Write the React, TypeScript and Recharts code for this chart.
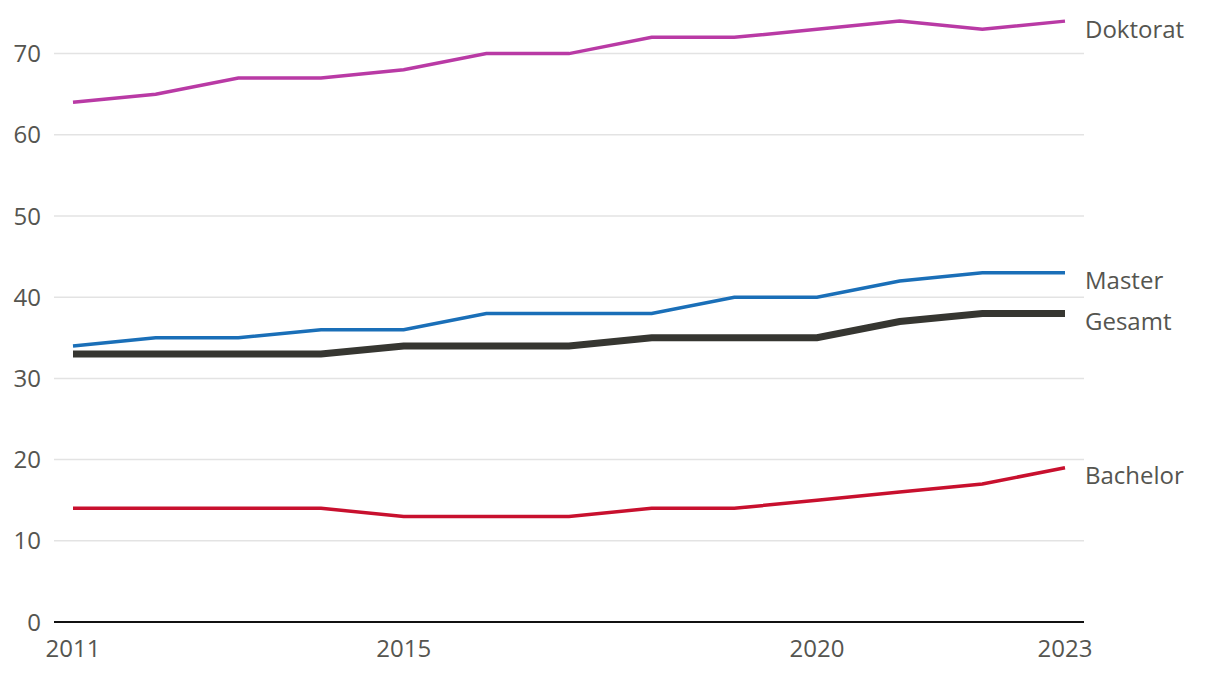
import { LineChart, Line, XAxis, YAxis, CartesianGrid } from "recharts";

const years = [2011, 2012, 2013, 2014, 2015, 2016, 2017, 2018, 2019, 2020, 2021, 2022, 2023];
const doktorat = [64, 65, 67, 67, 68, 70, 70, 72, 72, 73, 74, 73, 74];
const master = [34, 35, 35, 36, 36, 38, 38, 38, 40, 40, 42, 43, 43];
const gesamt = [33, 33, 33, 33, 34, 34, 34, 35, 35, 35, 37, 38, 38];
const bachelor = [14, 14, 14, 14, 13, 13, 13, 14, 14, 15, 16, 17, 19];

const xTicks = [2011, 2015, 2020, 2023];
const yTicks = [0, 10, 20, 30, 40, 50, 60, 70];

const FONT = "'Open Sans', 'Noto Sans', sans-serif";
const TEXT = "#555550";
const FS = 24;

const data = years.map((year, i) => ({
  year,
  doktorat: doktorat[i],
  master: master[i],
  gesamt: gesamt[i],
  bachelor: bachelor[i],
}));

// Beschriftung nur am letzten Punkt der Linie
const endLabel = (name: string) => (props: any) => {
  const { x, y, index } = props;
  if (index !== data.length - 1) return null;
  return (
    <text x={x + 20} y={y + 7} fill={TEXT} fontSize={FS} fontFamily={FONT} dominantBaseline="central">
      {name}
    </text>
  );
};

export default function App() {
  return (
    <div style={{ position: "absolute", left: 0, top: 0, width: 1220, height: 678, background: "#fff" }}>
      <LineChart width={1220} height={678} data={data} margin={{ top: 13, right: 136, bottom: 6, left: 0 }}>
        <CartesianGrid vertical={false} horizontalValues={yTicks} stroke="#e3e3e3" strokeWidth={1.5} />
        <XAxis
          dataKey="year"
          type="number"
          domain={[2011, 2023]}
          ticks={xTicks}
          padding={{ left: 19, right: 19 }}
          axisLine={{ stroke: "#111", strokeWidth: 2 }}
          tickLine={false}
          tickMargin={12}
          height={50}
          tick={{ fill: TEXT, fontSize: FS, fontFamily: FONT }}
        />
        <YAxis
          domain={[0, 75]}
          ticks={yTicks}
          width={54}
          axisLine={false}
          tickLine={false}
          tickMargin={7}
          tick={{ fill: TEXT, fontSize: FS, fontFamily: FONT }}
        />
        <Line dataKey="doktorat" stroke="#b93aa5" strokeWidth={3.5} dot={false} isAnimationActive={false} label={endLabel("Doktorat")} />
        <Line dataKey="master" stroke="#1a6fb8" strokeWidth={3.5} dot={false} isAnimationActive={false} label={endLabel("Master")} />
        <Line dataKey="bachelor" stroke="#c8102e" strokeWidth={3.5} dot={false} isAnimationActive={false} label={endLabel("Bachelor")} />
        <Line dataKey="gesamt" stroke="#363631" strokeWidth={7} dot={false} isAnimationActive={false} label={endLabel("Gesamt")} />
      </LineChart>
    </div>
  );
}
